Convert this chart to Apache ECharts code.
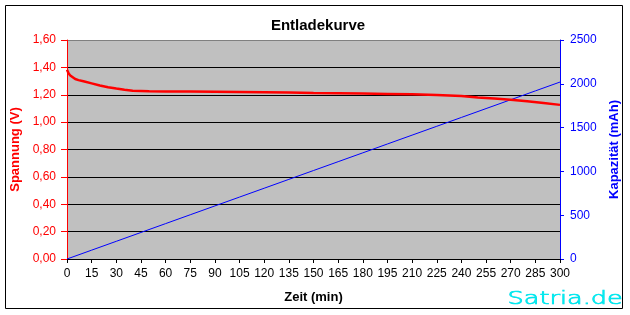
<!DOCTYPE html>
<html><head><meta charset="utf-8">
<script src="https://cdn.jsdelivr.net/npm/echarts@6/dist/echarts.min.js"></script>
<style>html,body{margin:0;padding:0;background:#fff}#c{width:630px;height:315px}</style>
</head><body><div id="c"></div>
<script>
// Discharge curve (voltage) sample times in minutes and readings in V
var voltTimes = [0,1,2,3,5,7,10,15,20,25,30,35,40,50,60,75,90,105,120,135,150,165,180,195,210,225,240,250,260,270,280,290,300];
var voltValues = [1.383,1.355,1.340,1.330,1.315,1.307,1.298,1.283,1.268,1.255,1.245,1.236,1.230,1.226,1.224,1.223,1.222,1.221,1.219,1.216,1.213,1.211,1.209,1.206,1.203,1.198,1.190,1.180,1.172,1.163,1.152,1.140,1.126];
// Capacity (mAh) over time
var capTimes = [0,15,30,45,60,75,90,105,120,135,150,165,180,195,210,225,240,255,270,285,300];
var capValues = [0,101,202,303,404,505,606,707,808,909,1010,1111,1212,1313,1414,1515,1616,1717,1818,1919,2020];
var xTicks = {min:0, max:300, step:15};
var voltAxis = {min:0, max:1.6, step:0.2};
var capAxis = {min:0, max:2500, step:500};

var voltData = voltTimes.map(function(t,i){return [t, voltValues[i]];});
var capData = capTimes.map(function(t,i){return [t, capValues[i]];});
var F = 'Arial, "Liberation Sans", sans-serif';
var splitColors = [];
for (var k=0;k<8;k++) splitColors.push('#000000');
splitColors.push('#808080');

var chart = echarts.init(document.getElementById('c'), null, {renderer:'canvas'});
chart.setOption({
  animation:false,
  backgroundColor:'#ffffff',
  title:{text:'Entladekurve', left:313, top:13, textAlign:'center',
    textStyle:{fontFamily:F, fontSize:15, fontWeight:'bold', color:'#000'}},
  grid:{left:67, right:70, top:40, bottom:56, show:true, backgroundColor:'#C0C0C0', borderWidth:0},
  xAxis:{type:'value', min:xTicks.min, max:xTicks.max, interval:xTicks.step,
    name:'Zeit (min)', nameLocation:'middle', nameGap:32,
    nameTextStyle:{fontFamily:F, fontSize:13, fontWeight:'bold', color:'#000'},
    axisLine:{onZero:false, lineStyle:{color:'#000', width:1}},
    axisTick:{show:true, length:4, lineStyle:{color:'#000'}},
    axisLabel:{fontFamily:F, fontSize:12, color:'#000', margin:9},
    splitLine:{show:false}},
  yAxis:[{type:'value', min:voltAxis.min, max:voltAxis.max, interval:voltAxis.step, position:'left',
    name:'Spannung (V)', nameLocation:'middle', nameGap:41, nameRotate:90,
    nameTextStyle:{fontFamily:F, fontSize:13, fontWeight:'bold', color:'#FF0000'},
    axisLine:{show:true, lineStyle:{color:'#FF0000', width:1}},
    axisTick:{show:true, length:6, lineStyle:{color:'#FF0000'}},
    axisLabel:{fontFamily:F, fontSize:12, color:'#FF0000', margin:11,
      formatter:function(v){return v.toFixed(2).replace('.',',');}},
    splitLine:{show:true, lineStyle:{color:splitColors, width:1}}},
   {type:'value', min:capAxis.min, max:capAxis.max, interval:capAxis.step, position:'right',
    name:'Kapazität (mAh)', nameLocation:'middle', nameGap:37, nameRotate:90,
    nameTextStyle:{fontFamily:F, fontSize:13, fontWeight:'bold', color:'#0000FF'},
    axisLine:{show:true, lineStyle:{color:'#0000FF', width:1}},
    axisTick:{show:true, length:4, lineStyle:{color:'#0000FF'}},
    axisLabel:{fontFamily:F, fontSize:12, color:'#0000FF', margin:10,
      formatter:function(v){return String(v);}},
    splitLine:{show:false}}],
  series:[
    {type:'line', name:'Spannung', yAxisIndex:0, data:voltData, showSymbol:false, symbol:'none',
     lineStyle:{color:'#FF0000', width:2.5}, z:3},
    {type:'line', name:'Kapazität', yAxisIndex:1, data:capData, showSymbol:false, symbol:'none',
     lineStyle:{color:'#0000FF', width:1}, z:2}
  ],
  graphic:[
    {type:'rect', shape:{x:5.5, y:5.5, width:617, height:303}, style:{fill:null, stroke:'#000', lineWidth:1}, z:-1, silent:true},
    {type:'text', left:507, top:290, scaleX:1.42, z:10,
     style:{text:'Satria.de', font:'200 18px "DejaVu Sans"', fill:'#00F0F0', stroke:'#00D8E8', lineWidth:0.7}}
  ]
});
</script></body></html>
